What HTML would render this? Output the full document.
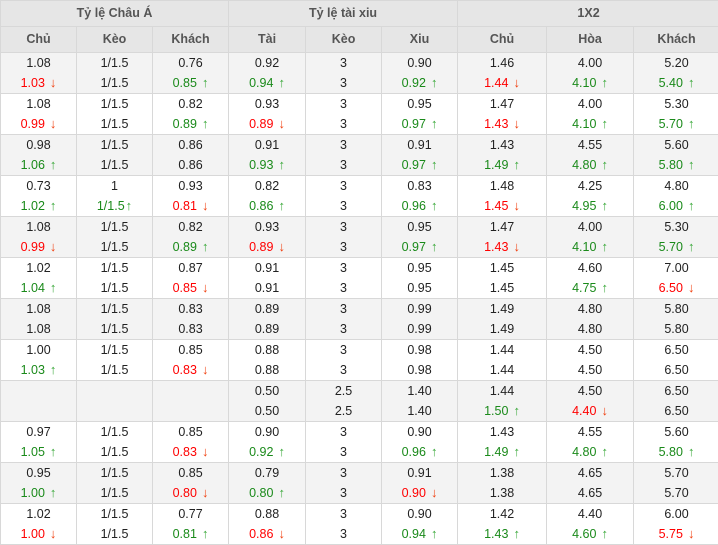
<!DOCTYPE html>
<html><head><meta charset="utf-8"><style>
body{margin:0;width:718px;height:542px;overflow:hidden;background:#fff;font-family:"Liberation Sans","DejaVu Sans",sans-serif;}
table{border-collapse:collapse;table-layout:fixed;width:719px;}
td,th{border:1px solid #d8d8d8;text-align:center;padding:0;font-size:12.5px;color:#222;overflow:hidden;}
th{background:#e6e6e6;color:#555;font-weight:bold;font-size:12.5px;height:25px;line-height:25px;}
td{height:40px;line-height:20px;}
tr.g td{background:#f3f3f3;}
.r{color:#f00}.gr{color:#1a8a1a}
.u,.d{font-size:13px;line-height:10px;margin-left:5px;font-weight:bold}
.u{color:#3aa83a}.d{color:#f04010}
</style></head><body>
<table>
<colgroup><col style="width:76px"><col style="width:76px"><col style="width:76px"><col style="width:77px"><col style="width:76px"><col style="width:76px"><col style="width:89px"><col style="width:87px"><col style="width:86px"></colgroup>
<tr><th colspan="3">Tỷ lệ Châu Á</th><th colspan="3">Tỷ lệ tài xiu</th><th colspan="3">1X2</th></tr>
<tr><th>Chủ</th><th>Kèo</th><th>Khách</th><th>Tài</th><th>Kèo</th><th>Xiu</th><th>Chủ</th><th>Hòa</th><th>Khách</th></tr>
<tr class="g"><td>1.08<br><span class="r">1.03</span><span class="d">↓</span></td><td>1/1.5<br>1/1.5</td><td>0.76<br><span class="gr">0.85</span><span class="u">↑</span></td><td>0.92<br><span class="gr">0.94</span><span class="u">↑</span></td><td>3<br>3</td><td>0.90<br><span class="gr">0.92</span><span class="u">↑</span></td><td>1.46<br><span class="r">1.44</span><span class="d">↓</span></td><td>4.00<br><span class="gr">4.10</span><span class="u">↑</span></td><td>5.20<br><span class="gr">5.40</span><span class="u">↑</span></td></tr>
<tr><td>1.08<br><span class="r">0.99</span><span class="d">↓</span></td><td>1/1.5<br>1/1.5</td><td>0.82<br><span class="gr">0.89</span><span class="u">↑</span></td><td>0.93<br><span class="r">0.89</span><span class="d">↓</span></td><td>3<br>3</td><td>0.95<br><span class="gr">0.97</span><span class="u">↑</span></td><td>1.47<br><span class="r">1.43</span><span class="d">↓</span></td><td>4.00<br><span class="gr">4.10</span><span class="u">↑</span></td><td>5.30<br><span class="gr">5.70</span><span class="u">↑</span></td></tr>
<tr class="g"><td>0.98<br><span class="gr">1.06</span><span class="u">↑</span></td><td>1/1.5<br>1/1.5</td><td>0.86<br>0.86</td><td>0.91<br><span class="gr">0.93</span><span class="u">↑</span></td><td>3<br>3</td><td>0.91<br><span class="gr">0.97</span><span class="u">↑</span></td><td>1.43<br><span class="gr">1.49</span><span class="u">↑</span></td><td>4.55<br><span class="gr">4.80</span><span class="u">↑</span></td><td>5.60<br><span class="gr">5.80</span><span class="u">↑</span></td></tr>
<tr><td>0.73<br><span class="gr">1.02</span><span class="u">↑</span></td><td>1<br><span class="gr">1/1.5</span><span class="u" style="margin-left:1px">↑</span></td><td>0.93<br><span class="r">0.81</span><span class="d">↓</span></td><td>0.82<br><span class="gr">0.86</span><span class="u">↑</span></td><td>3<br>3</td><td>0.83<br><span class="gr">0.96</span><span class="u">↑</span></td><td>1.48<br><span class="r">1.45</span><span class="d">↓</span></td><td>4.25<br><span class="gr">4.95</span><span class="u">↑</span></td><td>4.80<br><span class="gr">6.00</span><span class="u">↑</span></td></tr>
<tr class="g"><td>1.08<br><span class="r">0.99</span><span class="d">↓</span></td><td>1/1.5<br>1/1.5</td><td>0.82<br><span class="gr">0.89</span><span class="u">↑</span></td><td>0.93<br><span class="r">0.89</span><span class="d">↓</span></td><td>3<br>3</td><td>0.95<br><span class="gr">0.97</span><span class="u">↑</span></td><td>1.47<br><span class="r">1.43</span><span class="d">↓</span></td><td>4.00<br><span class="gr">4.10</span><span class="u">↑</span></td><td>5.30<br><span class="gr">5.70</span><span class="u">↑</span></td></tr>
<tr><td>1.02<br><span class="gr">1.04</span><span class="u">↑</span></td><td>1/1.5<br>1/1.5</td><td>0.87<br><span class="r">0.85</span><span class="d">↓</span></td><td>0.91<br>0.91</td><td>3<br>3</td><td>0.95<br>0.95</td><td>1.45<br>1.45</td><td>4.60<br><span class="gr">4.75</span><span class="u">↑</span></td><td>7.00<br><span class="r">6.50</span><span class="d">↓</span></td></tr>
<tr class="g"><td>1.08<br>1.08</td><td>1/1.5<br>1/1.5</td><td>0.83<br>0.83</td><td>0.89<br>0.89</td><td>3<br>3</td><td>0.99<br>0.99</td><td>1.49<br>1.49</td><td>4.80<br>4.80</td><td>5.80<br>5.80</td></tr>
<tr><td>1.00<br><span class="gr">1.03</span><span class="u">↑</span></td><td>1/1.5<br>1/1.5</td><td>0.85<br><span class="r">0.83</span><span class="d">↓</span></td><td>0.88<br>0.88</td><td>3<br>3</td><td>0.98<br>0.98</td><td>1.44<br>1.44</td><td>4.50<br>4.50</td><td>6.50<br>6.50</td></tr>
<tr class="g"><td></td><td></td><td></td><td>0.50<br>0.50</td><td>2.5<br>2.5</td><td>1.40<br>1.40</td><td>1.44<br><span class="gr">1.50</span><span class="u">↑</span></td><td>4.50<br><span class="r">4.40</span><span class="d">↓</span></td><td>6.50<br>6.50</td></tr>
<tr><td>0.97<br><span class="gr">1.05</span><span class="u">↑</span></td><td>1/1.5<br>1/1.5</td><td>0.85<br><span class="r">0.83</span><span class="d">↓</span></td><td>0.90<br><span class="gr">0.92</span><span class="u">↑</span></td><td>3<br>3</td><td>0.90<br><span class="gr">0.96</span><span class="u">↑</span></td><td>1.43<br><span class="gr">1.49</span><span class="u">↑</span></td><td>4.55<br><span class="gr">4.80</span><span class="u">↑</span></td><td>5.60<br><span class="gr">5.80</span><span class="u">↑</span></td></tr>
<tr class="g"><td>0.95<br><span class="gr">1.00</span><span class="u">↑</span></td><td>1/1.5<br>1/1.5</td><td>0.85<br><span class="r">0.80</span><span class="d">↓</span></td><td>0.79<br><span class="gr">0.80</span><span class="u">↑</span></td><td>3<br>3</td><td>0.91<br><span class="r">0.90</span><span class="d">↓</span></td><td>1.38<br>1.38</td><td>4.65<br>4.65</td><td>5.70<br>5.70</td></tr>
<tr><td>1.02<br><span class="r">1.00</span><span class="d">↓</span></td><td>1/1.5<br>1/1.5</td><td>0.77<br><span class="gr">0.81</span><span class="u">↑</span></td><td>0.88<br><span class="r">0.86</span><span class="d">↓</span></td><td>3<br>3</td><td>0.90<br><span class="gr">0.94</span><span class="u">↑</span></td><td>1.42<br><span class="gr">1.43</span><span class="u">↑</span></td><td>4.40<br><span class="gr">4.60</span><span class="u">↑</span></td><td>6.00<br><span class="r">5.75</span><span class="d">↓</span></td></tr>
</table>
</body></html>
